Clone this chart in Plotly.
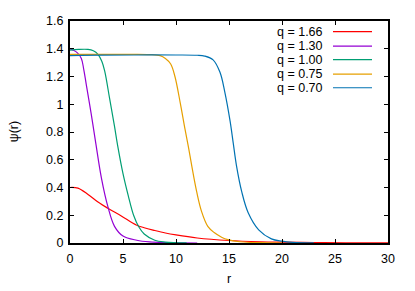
import plotly.graph_objects as go

# ---- data ----
labels = ["q = 1.66", "q = 1.30", "q = 1.00", "q = 0.75", "q = 0.70"]
colors = ["#ff0000", "#9400d3", "#009e73", "#e69f00", "#0072b2"]

r_166 = [0, 0.75, 1.7, 2.64, 3.58, 4.84, 6.25, 7, 8, 9, 10, 12, 15, 18, 20, 23, 26, 30]
psi_166 = [0.40, 0.395, 0.35, 0.295, 0.25, 0.195, 0.13, 0.11, 0.09, 0.072, 0.058, 0.036, 0.018, 0.009, 0.006, 0.003, 0.0015, 0.0005]

r_130 = [0, 0.3, 0.7, 1.07, 1.3, 1.54, 2.0, 2.43, 2.96, 3.58, 4.2, 5.0, 6.3, 7.5, 9, 12]
psi_130 = [1.40, 1.39, 1.37, 1.33, 1.25, 1.14, 0.93, 0.72, 0.47, 0.26, 0.12, 0.05, 0.02, 0.008, 0.003, 0.0]

r_100 = [0, 0.8, 1.7, 2.2, 2.64, 3.0, 3.27, 3.74, 4.2, 4.5, 5.0, 5.5, 6.0, 6.5, 7, 8, 9, 11]
psi_100 = [1.39, 1.395, 1.395, 1.385, 1.36, 1.31, 1.24, 1.04, 0.84, 0.70, 0.50, 0.34, 0.20, 0.115, 0.065, 0.02, 0.007, 0.001]

r_075 = [0, 2, 4, 6, 7.5, 8.5, 9.0, 9.5, 9.9, 10.4, 10.85, 11.2, 11.5, 11.95, 12.4, 13.0, 13.6, 14.3, 14.9, 16, 18, 20]
psi_075 = [1.36, 1.36, 1.36, 1.36, 1.358, 1.35, 1.33, 1.29, 1.20, 1.01, 0.82, 0.68, 0.55, 0.37, 0.23, 0.12, 0.075, 0.042, 0.024, 0.009, 0.002, 0.0]

r_070 = [0, 1, 3, 6, 10, 12, 12.7, 13.5, 14.15, 14.6, 15.1, 15.4, 15.7, 16.2, 16.8, 17.8, 19.0, 20, 21, 23]
psi_070 = [1.35, 1.352, 1.354, 1.355, 1.355, 1.353, 1.347, 1.32, 1.23, 1.09, 0.88, 0.72, 0.56, 0.37, 0.22, 0.095, 0.03, 0.013, 0.005, 0.001]

series_r = [r_166, r_130, r_100, r_075, r_070]
series_psi = [psi_166, psi_130, psi_100, psi_075, psi_070]

x_ticks = [0, 5, 10, 15, 20, 25, 30]
y_ticks = [0, 0.2, 0.4, 0.6, 0.8, 1.0, 1.2, 1.4, 1.6]
y_tick_text = ["0", "0.2", "0.4", "0.6", "0.8", "1", "1.2", "1.4", "1.6"]

# ---- layout geometry (page body adds an 8px offset) ----
W, H = 415, 291
OFF = 8
L, R, T, B = 70, 388, 14, 243.5

fig = go.Figure()
for rr, pp, name, c in zip(series_r, series_psi, labels, colors):
    fig.add_trace(go.Scatter(x=rr, y=pp, mode="lines", name=name,
                             line=dict(color=c, width=1.2, shape="spline", smoothing=1.0),
                             showlegend=False))

font = dict(family="Liberation Sans, Arial, sans-serif", size=12.5, color="#000000")

fig.update_layout(
    width=W, height=H,
    margin=dict(l=L - OFF, r=W - (R - OFF), t=T - OFF, b=H - (B - OFF), pad=0),
    paper_bgcolor="white", plot_bgcolor="white",
    font=font,
    xaxis=dict(range=[0, 30], tickvals=x_ticks, ticks="inside", ticklen=4, tickwidth=1,
               tickcolor="#000", showline=True, linecolor="#000", linewidth=2,
               mirror="ticks", showgrid=False, zeroline=False, ticklabelstandoff=3),
    yaxis=dict(range=[0, 1.6], tickvals=y_ticks, ticktext=y_tick_text, ticks="inside",
               ticklen=4, tickwidth=1, tickcolor="#000", showline=True, linecolor="#000",
               linewidth=2, mirror="ticks", showgrid=False, zeroline=False,
               ticklabelstandoff=2),
)

# axis titles
fig.add_annotation(text="r", xref="paper", yref="paper", x=(229 - L) / (R - L),
                   y=(B - 281) / (B - T), showarrow=False, font=font,
                   xanchor="center", yanchor="middle")
fig.add_annotation(text="ψ(r)", xref="paper", yref="paper", x=(14 - L) / (R - L),
                   y=(B - 129) / (B - T), showarrow=False, font=font, textangle=-90,
                   xanchor="center", yanchor="middle")

# gnuplot-style key: right-aligned text followed by line sample
key_rows = [25, 40, 54, 69, 83]
for name, c, py in zip(labels, colors, key_rows):
    yp = (B - py) / (B - T)
    fig.add_annotation(text=name, xref="paper", yref="paper", x=(325 - L) / (R - L), y=yp,
                       showarrow=False, font=font, xanchor="right", yanchor="middle")
    fig.add_shape(type="line", xref="paper", yref="paper",
                  x0=(333 - L) / (R - L), x1=(372 - L) / (R - L), y0=yp, y1=yp,
                  line=dict(color=c, width=1.2))

fig.write_html("out.html")
